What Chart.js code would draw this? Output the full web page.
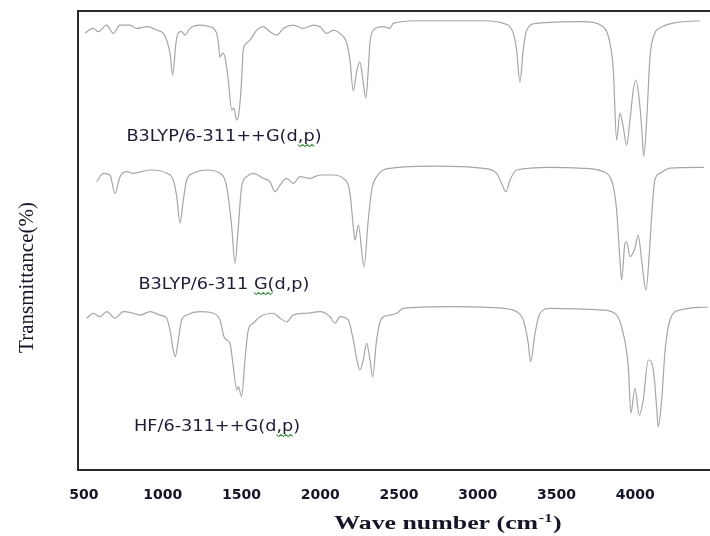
<!DOCTYPE html>
<html><head><meta charset="utf-8">
<script src="https://cdn.jsdelivr.net/npm/chart.js@4.4.1/dist/chart.umd.min.js"></script>
<style>html,body{margin:0;padding:0;background:#fff;}</style>
</head><body>
<canvas id="c" width="710" height="536"></canvas>
<script>
// Tick labels of the wavenumber axis
const xTickValues = [500, 1000, 1500, 2000, 2500, 3000, 3500, 4000];
// Method / basis set of each simulated spectrum
const seriesNames = ["B3LYP/6-311++G(d,p)", "B3LYP/6-311 G(d,p)", "HF/6-311++G(d,p)"];
const xTitle = "Wave number (cm";
const xTitleSup = "-1";
const yTitle = "Transmittance(%)";

// Spectrum 1: B3LYP/6-311++G(d,p)  (wavenumber cm-1, relative transmittance %)
const wn1 = [506,559,591,644,686,729,792,835,898,962,1004,1025,1046,1063,1084,1099,1120,1141,1173,1237,1300,1343,1353,1364,1381,1395,1416,1438,1452,1470,1486,1501,1511,1533,1554,1597,1638,1681,1724,1766,1829,1892,1956,1998,2041,2083,2125,2168,2189,2210,2233,2252,2271,2290,2305,2316,2337,2400,2443,2464,2612,3035,3162,3226,3247,3268,3289,3311,3374,3670,3797,3840,3861,3882,3903,3922,3946,3967,3988,4005,4026,4041,4054,4073,4094,4125,4157,4240,4411];
const tr1 = [89.2,92.5,90.1,94.9,88.9,94.9,94.9,92.5,93.7,91.3,88.9,84.1,74.8,59.0,82.0,89.2,90.1,87.7,92.5,94.9,93.7,88.9,82.0,71.9,74.8,71.9,55.4,33.8,35.2,26.6,33.8,55.4,76.9,82.0,84.1,91.3,93.7,90.1,87.7,92.5,94.9,92.5,94.9,93.7,88.9,91.3,88.9,82.0,69.7,47.5,62.6,68.3,55.4,42.4,62.6,82.0,91.3,93.7,92.5,96.1,98.0,98.0,96.1,88.9,76.9,53.9,76.9,91.3,96.1,97.3,93.7,81.8,62.6,12.2,31.6,23.0,8.6,26.6,48.2,55.4,41.0,21.6,0.5,26.6,71.9,89.2,92.8,96.3,98.0];

// Spectrum 2: B3LYP/6-311 G(d,p)
const wn2 = [581,623,665,697,729,771,813,919,1025,1067,1089,1110,1131,1152,1194,1279,1364,1406,1438,1459,1480,1501,1533,1575,1638,1681,1713,1745,1787,1829,1871,1935,1998,2083,2146,2189,2210,2221,2242,2278,2305,2327,2358,2443,2718,3035,3120,3152,3179,3205,3247,3459,3670,3819,3861,3882,3903,3914,3935,3946,3967,3998,4019,4041,4068,4094,4104,4125,4157,4221,4437];
const tr2 = [87.3,93.3,92.1,78.9,90.9,94.5,93.3,95.7,93.3,88.5,76.5,57.4,74.1,88.5,93.3,95.7,93.3,83.7,54.9,28.6,54.9,83.7,90.9,93.3,89.7,87.3,80.1,84.9,89.7,86.1,90.9,89.7,92.1,92.1,89.7,78.9,54.9,45.3,56.1,26.2,59.7,81.3,90.9,96.9,98.5,96.9,93.3,86.1,80.1,88.5,95.7,97.6,96.9,93.3,83.7,66.9,31.0,16.6,43.0,44.1,33.3,39.4,48.9,31.0,9.4,43.0,61.9,88.5,93.3,97.1,97.6];

// Spectrum 3: HF/6-311++G(d,p)
const wn3 = [517,559,602,644,697,750,813,856,919,983,1025,1046,1067,1080,1099,1120,1152,1237,1321,1364,1389,1406,1427,1448,1470,1480,1501,1522,1543,1575,1618,1702,1745,1787,1829,1914,1998,2062,2094,2125,2178,2210,2233,2252,2273,2295,2316,2333,2358,2390,2443,2485,2527,2824,3162,3247,3289,3321,3336,3364,3395,3459,3797,3882,3924,3956,3973,3998,4026,4051,4083,4115,4136,4146,4168,4190,4221,4284,4462];
const tr3 = [89.1,92.7,90.2,93.8,89.1,93.8,92.7,91.4,93.8,91.4,89.1,80.6,66.3,61.5,73.5,87.8,91.4,93.8,92.7,87.8,75.8,73.5,71.1,54.3,37.5,39.9,32.7,59.1,80.6,85.5,90.2,92.7,89.1,86.6,91.4,92.7,93.8,90.2,85.5,90.2,87.8,73.5,59.1,51.9,59.1,71.1,59.1,47.1,73.5,89.1,91.4,92.7,96.2,97.4,96.2,93.8,87.8,71.1,57.9,78.3,92.7,96.2,95.0,91.4,78.3,54.3,20.8,38.7,19.5,30.3,59.1,51.9,25.5,11.1,30.3,66.3,87.8,95.0,97.2];

const seriesWn = [wn1, wn2, wn3];
const seriesTr = [tr1, tr2, tr3];

// display: vertical stacking of the three spectra
const stackOffset = [225, 120, 20];
const labelAnchor = [[1389, 239.4], [1389, 133.0], [1345, 30.9]];
// spell-check squiggle under these character ranges of each label
const squiggleChars = [[16, 18], [12, 14], [13, 15]];

const datasets = seriesNames.map((name, i) => ({
  label: name,
  data: seriesWn[i].map((w, j) => ({ x: w, y: seriesTr[i][j] + stackOffset[i] })),
  borderColor: '#a6a6a6',
  borderWidth: 1.2,
  pointRadius: 0,
  fill: false,
  cubicInterpolationMode: 'monotone'
}));

const framePlugin = {
  id: 'frameAndLabels',
  afterDraw(chart) {
    const { ctx, chartArea, scales } = chart;
    ctx.save();
    // top frame line
    ctx.strokeStyle = '#2a2a2a';
    ctx.lineWidth = 2;
    ctx.beginPath();
    ctx.moveTo(chartArea.left, chartArea.top);
    ctx.lineTo(chart.width, chartArea.top);
    ctx.stroke();
    // spectrum labels
    ctx.font = '15px "DejaVu Sans"';
    ctx.textAlign = 'left';
    ctx.textBaseline = 'middle';
    const lsx = 1.18;
    seriesNames.forEach((name, i) => {
      const px = scales.x.getPixelForValue(labelAnchor[i][0]);
      const py = scales.y.getPixelForValue(labelAnchor[i][1]);
      const w = ctx.measureText(name).width;
      ctx.save();
      ctx.translate(px - w * lsx / 2, py);
      ctx.scale(lsx, 1);
      ctx.fillStyle = '#1c1c40';
      ctx.fillText(name, 0, 0);
      // green wavy underline
      const [a, b] = squiggleChars[i];
      const xa = ctx.measureText(name.slice(0, a)).width;
      const xb = ctx.measureText(name.slice(0, b)).width;
      ctx.strokeStyle = '#3c9a3c';
      ctx.lineWidth = 1;
      ctx.beginPath();
      for (let x = xa, k = 0; x <= xb; x += 2, k++) {
        const yy = 8 + (k % 2 ? 1.5 : -0.5);
        if (k === 0) ctx.moveTo(x, yy); else ctx.lineTo(x, yy);
      }
      ctx.stroke();
      ctx.restore();
    });
    // x axis title with superscript
    ctx.fillStyle = '#15152a';
    ctx.textAlign = 'left';
    ctx.textBaseline = 'alphabetic';
    const mainFont = 'bold 19px "Liberation Serif"';
    const supFont = 'bold 12px "Liberation Serif"';
    ctx.font = mainFont;
    const w1 = ctx.measureText(xTitle).width;
    const wp = ctx.measureText(')').width;
    ctx.font = supFont;
    const ws = ctx.measureText(xTitleSup).width;
    const sx = 1.36;
    const total = (w1 + ws + wp + 1) * sx;
    const cx = (chartArea.left + chart.width) / 2 + 54;
    const x0 = cx - total / 2;
    ctx.save();
    ctx.translate(x0, 529);
    ctx.scale(sx, 1);
    ctx.font = mainFont;
    ctx.fillText(xTitle, 0, 0);
    ctx.font = supFont;
    ctx.fillText(xTitleSup, w1 + 0.5, -7);
    ctx.font = mainFont;
    ctx.fillText(')', w1 + ws + 1, 0);
    ctx.restore();
    // y axis title
    ctx.save();
    ctx.translate(27, (chartArea.top + chartArea.bottom) / 2 + 37);
    ctx.rotate(-Math.PI / 2);
    ctx.font = '21px "Liberation Serif"';
    ctx.textAlign = 'center';
    ctx.textBaseline = 'middle';
    ctx.fillText(yTitle, 0, 0);
    ctx.restore();
    ctx.restore();
  }
};

new Chart(document.getElementById('c'), {
  type: 'line',
  data: { datasets },
  options: {
    responsive: false,
    animation: false,
    devicePixelRatio: 1,
    layout: { padding: { top: 11, left: 78, right: 0, bottom: 0 } },
    plugins: { legend: { display: false }, tooltip: { enabled: false } },
    scales: {
      x: {
        type: 'linear',
        min: 462,
        max: 4475,
        afterBuildTicks: (scale) => { scale.ticks = xTickValues.map(v => ({ value: v })); },
        afterFit: (scale) => { scale.height = 66; },
        ticks: {
          autoSkip: false,
          maxRotation: 0,
          padding: 17,
          color: '#15152a',
          font: { family: '"DejaVu Sans"', size: 14, weight: 'bold' },
          callback: (v) => String(v)
        },
        grid: { display: false, drawTicks: false },
        border: { display: true, color: '#2a2a2a', width: 2 }
      },
      y: {
        type: 'linear',
        min: 0,
        max: 330,
        ticks: { display: false },
        grid: { display: false, drawTicks: false },
        border: { display: true, color: '#2a2a2a', width: 2 }
      }
    }
  },
  plugins: [framePlugin]
});
</script>
</body></html>
